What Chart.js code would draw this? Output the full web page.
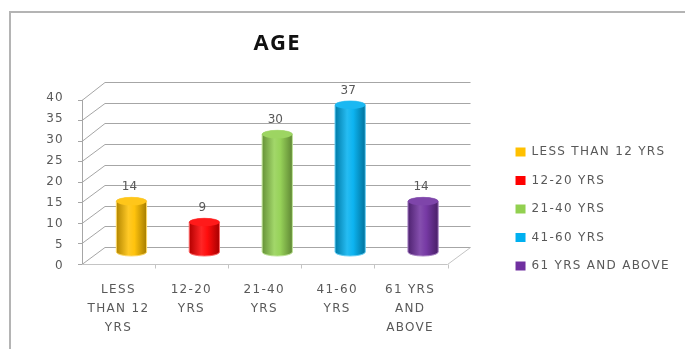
<!DOCTYPE html>
<html>
<head>
<meta charset="utf-8">
<script src="https://cdn.jsdelivr.net/npm/chart.js@4.4.1/dist/chart.umd.min.js"></script>
<style>
  html, body { margin: 0; padding: 0; background: #fff; }
  #wrap { width: 685px; height: 349px; position: relative; }
</style>
</head>
<body>
<div id="wrap"><canvas id="age"></canvas></div>
<script>
const categories = [['LESS', 'THAN 12', 'YRS'], ['12-20', 'YRS'], ['21-40', 'YRS'], ['41-60', 'YRS'], ['61 YRS', 'AND', 'ABOVE']];
const legendNames = ['LESS THAN 12 YRS', '12-20 YRS', '21-40 YRS', '41-60 YRS', '61 YRS AND ABOVE'];
const counts = [14, 9, 30, 37, 14];
const barColors = ['#FFC000', '#FF0000', '#92D050', '#00B0F0', '#7030A0'];
const yMin = 0, yMax = 40, yStep = 5;

Chart.defaults.font.family = "'DejaVu Sans', sans-serif";
Chart.defaults.color = '#595959';

// lighten (amt > 0) or darken (amt < 0) a hex colour
function shade(hex, amt) {
  const n = parseInt(hex.slice(1), 16);
  const f = c => amt < 0 ? Math.round(c * (1 + amt)) : Math.round(c + (255 - c) * amt);
  return 'rgb(' + f(n >> 16) + ',' + f((n >> 8) & 255) + ',' + f(n & 255) + ')';
}

function cylinder(ctx, cx, top, bottom, w, color) {
  const rx = w / 2, ry = 4, l = cx - rx, r = cx + rx;
  ctx.save();
  const g = ctx.createLinearGradient(l, 0, r, 0);
  g.addColorStop(0, shade(color, -0.3));
  g.addColorStop(0.4, shade(color, 0.15));
  g.addColorStop(0.6, shade(color, 0.05));
  g.addColorStop(1, shade(color, -0.35));
  ctx.beginPath();
  ctx.moveTo(l, top + ry);
  ctx.lineTo(l, bottom - ry);
  ctx.ellipse(cx, bottom - ry, rx, ry, 0, Math.PI, 0, true);
  ctx.lineTo(r, top + ry);
  ctx.ellipse(cx, top + ry, rx, ry, 0, 0, Math.PI, true);
  ctx.closePath();
  ctx.fillStyle = g;
  ctx.fill();
  ctx.strokeStyle = shade(color, 0.4);
  ctx.lineWidth = 1;
  ctx.stroke();
  ctx.beginPath();
  ctx.ellipse(cx, top + ry, rx, ry, 0, 0, 2 * Math.PI);
  ctx.fillStyle = shade(color, 0.1);
  ctx.fill();
  ctx.restore();
}

// the original text is set wide; canvas state gets reset on resize so set it each time
const spacing = {
  id: 'spacing',
  beforeLayout(chart) { chart.ctx.letterSpacing = '1.3px'; },
  beforeDraw(chart) { chart.ctx.letterSpacing = '1.3px'; }
};

const frame = {
  id: 'frame',
  beforeDraw(chart) {
    const ctx = chart.ctx;
    ctx.save();
    ctx.fillStyle = '#fff';
    ctx.fillRect(0, 0, chart.width, chart.height);
    ctx.strokeStyle = '#b4b4b4';
    ctx.lineWidth = 2;
    ctx.strokeRect(10, 12, chart.width + 20, chart.height + 20);
    ctx.restore();
  }
};

// the layout caps side boxes to a fraction of the width; let the legend keep its full width
const wideLegend = {
  id: 'wideLegend',
  beforeLayout(chart) {
    const lg = chart.legend;
    if (!lg || lg.fitPatched) return;
    const fit = lg.fit;
    lg.fit = function () { this.maxWidth = 300; fit.call(this); };
    lg.fitPatched = true;
  }
};

// fake 3d walls, floor and cylinders
const walls = {
  id: 'walls',
  beforeDatasetsDraw(chart) {
    const {ctx, chartArea: a, scales: {y}} = chart;
    const fx0 = a.left - 13, bx0 = a.left + 10, fx1 = a.right - 12, bx1 = a.right + 11;
    const frontY = v => y.getPixelForValue(v) + 8 + 3.5 * (v - yMin) / (yMax - yMin);
    const backY = v => y.getPixelForValue(v) - 9 + 2.6 * (v - yMin) / (yMax - yMin);
    ctx.save();
    ctx.lineWidth = 1;
    ctx.strokeStyle = '#a6a6a6';
    ctx.beginPath();
    y.ticks.forEach(t => {
      const by = Math.round(backY(t.value)) + 0.5;
      const fy = Math.round(frontY(t.value)) + 0.5;
      ctx.moveTo(bx0, by); ctx.lineTo(bx1, by);
      ctx.moveTo(fx0, fy); ctx.lineTo(bx0, by);
      ctx.moveTo(fx0 - 4, fy); ctx.lineTo(fx0, fy);
    });
    ctx.moveTo(fx0 + 0.5, frontY(yMin)); ctx.lineTo(fx0 + 0.5, frontY(yMax));
    ctx.stroke();
    const f0 = Math.round(frontY(yMin)) + 0.5;
    ctx.strokeStyle = '#c4c4c4';
    ctx.beginPath();
    ctx.moveTo(fx0, f0); ctx.lineTo(fx1, f0); ctx.lineTo(bx1, Math.round(backY(yMin)) + 0.5);
    const n = chart.data.labels.length;
    for (let i = 1; i <= n; i++) {
      const x = Math.round(fx0 + (fx1 - fx0) * i / n) + 0.5;
      ctx.moveTo(x, f0); ctx.lineTo(x, f0 + 4);
    }
    ctx.stroke();
    ctx.restore();
  },
  afterDatasetsDraw(chart) {
    const ctx = chart.ctx;
    const values = chart.data.datasets[0].data;
    chart.getDatasetMeta(0).data.forEach((bar, i) => {
      cylinder(ctx, bar.x, bar.y, bar.base, bar.width, barColors[i]);
      ctx.save();
      ctx.letterSpacing = '0px';
      ctx.fillStyle = '#595959';
      ctx.font = "12px 'DejaVu Sans'";
      ctx.textAlign = 'center';
      ctx.fillText(values[i], bar.x - 2, bar.y - 7);
      ctx.restore();
    });
  }
};

new Chart(document.getElementById('age'), {
  type: 'bar',
  data: {
    labels: categories,
    datasets: [{
      label: 'AGE',
      data: counts,
      backgroundColor: 'rgba(0,0,0,0)',
      borderWidth: 0,
      categoryPercentage: 1,
      barPercentage: 0.415
    }]
  },
  options: {
    responsive: true,
    maintainAspectRatio: false,
    animation: false,
    events: [],
    layout: { padding: { left: 0, right: 5, top: 0, bottom: 0 } },
    plugins: {
      title: {
        display: true,
        text: 'AGE',
        color: '#111',
        fullSize: false,
        font: { family: "'Open Sans', sans-serif", size: 22, weight: 'bold' },
        padding: { top: 30.5, bottom: 31.5 }
      },
      legend: {
        position: 'right',
        align: 'start',
        title: { display: true, text: ' ', font: { size: 10 }, padding: { top: 117.5, bottom: 0 } },
        labels: {
          boxWidth: 10,
          boxHeight: 9,
          padding: 16.5,
          font: { size: 12 },
          color: '#595959',
          generateLabels: () => legendNames.map((text, i) => ({
            text, fillStyle: barColors[i], strokeStyle: barColors[i], lineWidth: 0, hidden: false, index: i, fontColor: '#595959'
          }))
        }
      },
      tooltip: { enabled: false }
    },
    scales: {
      x: {
        grid: { display: false, drawTicks: false },
        border: { display: false },
        ticks: { padding: 24.5, labelOffset: -13, maxRotation: 0, autoSkip: false, font: { size: 12, lineHeight: 1.58 } },
        afterFit(s) { s.height = 93; }
      },
      y: {
        min: yMin,
        max: yMax,
        grid: { display: false, drawTicks: false },
        border: { display: false },
        ticks: { stepSize: yStep, padding: 31, labelOffset: 9.5, font: { size: 12 } },
        afterFit(s) { s.width = 95; }
      },
      yr: {
        position: 'right',
        display: true,
        grid: { display: false, drawTicks: false },
        border: { display: false },
        ticks: { display: false },
        afterFit(s) { s.width = 39.5; }
      }
    }
  },
  plugins: [spacing, frame, wideLegend, walls]
});
</script>
</body>
</html>
